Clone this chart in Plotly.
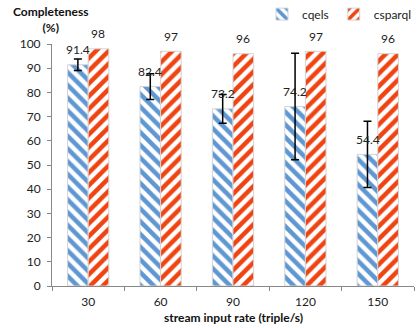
import plotly.graph_objects as go

categories = ["30", "60", "90", "120", "150"]
cqels = [91.4, 82.4, 73.2, 74.2, 54.4]
csparql = [98, 97, 96, 97, 96]
cqels_err = [2.4, 5.3, 5.9, 22, 13.7]
y_ticks = list(range(0, 101, 10))

FONT = "Lato, 'Open Sans', sans-serif"
BLUE = "#5f97d2"
RED = "#f04312"

fig = go.Figure()
fig.add_trace(go.Bar(
    name="cqels", x=categories, y=cqels,
    marker=dict(color="white", line=dict(color="#d4d4d4", width=1),
                pattern=dict(shape="\\", fgcolor=BLUE, bgcolor="white", fgopacity=1, size=9, solidity=0.5)),
    error_y=dict(type="data", array=cqels_err, visible=True, color="black", thickness=1.5, width=4),
))
fig.add_trace(go.Bar(
    name="csparql", x=categories, y=csparql,
    marker=dict(color="white", line=dict(color="#d4d4d4", width=1),
                pattern=dict(shape="/", fgcolor=RED, bgcolor="white", fgopacity=1, size=9, solidity=0.5)),
))

annotations = []
for i, c in enumerate(categories):
    annotations.append(dict(x=i - 0.142, y=cqels[i], xref="x", yref="y", text=str(cqels[i]),
                            showarrow=False, yshift=15, font=dict(size=12, color="#222")))
    annotations.append(dict(x=i + 0.142, y=csparql[i], xref="x", yref="y", text=str(csparql[i]),
                            showarrow=False, yshift=15, font=dict(size=12, color="#222")))
annotations.append(dict(x=-0.005, y=1.101, xref="paper", yref="paper", text="<b>Completeness</b><br><b>(%)</b>",
                        showarrow=False, xanchor="center", yanchor="middle", align="center",
                        font=dict(size=12, color="#111")))
annotations.append(dict(x=0.5, y=-0.132, xref="paper", yref="paper", text="<b>stream input rate (triple/s)</b>",
                        showarrow=False, xanchor="center", yanchor="middle",
                        font=dict(size=12, color="#111")))

fig.update_layout(
    width=417, height=328,
    margin=dict(l=52, r=3, t=44, b=42, autoexpand=False),
    paper_bgcolor="white", plot_bgcolor="white",
    font=dict(family=FONT, size=12, color="#222"),
    barmode="group", bargap=0.43, bargroupgap=0,
    showlegend=True,
    legend=dict(orientation="h", xref="container", yref="container", x=1.0, xanchor="right",
                y=0.957, yanchor="middle", font=dict(size=12), itemwidth=30,
                bgcolor="rgba(0,0,0,0)"),
    annotations=annotations,
    xaxis=dict(type="category", showline=True, linecolor="#888", linewidth=1,
               ticks="outside", tickson="boundaries", ticklen=4, tickcolor="#888",
               showgrid=False, ticklabelstandoff=5),
    yaxis=dict(range=[0, 100], tickvals=y_ticks, showline=True, linecolor="#888", linewidth=1,
               ticks="outside", ticklen=4, tickcolor="#888", showgrid=False, zeroline=False,
               ticklabelstandoff=4),
)

fig.write_html("out.html", config={"displayModeBar": False},
               post_script="document.body.style.margin='0';document.body.style.overflow='hidden';")
